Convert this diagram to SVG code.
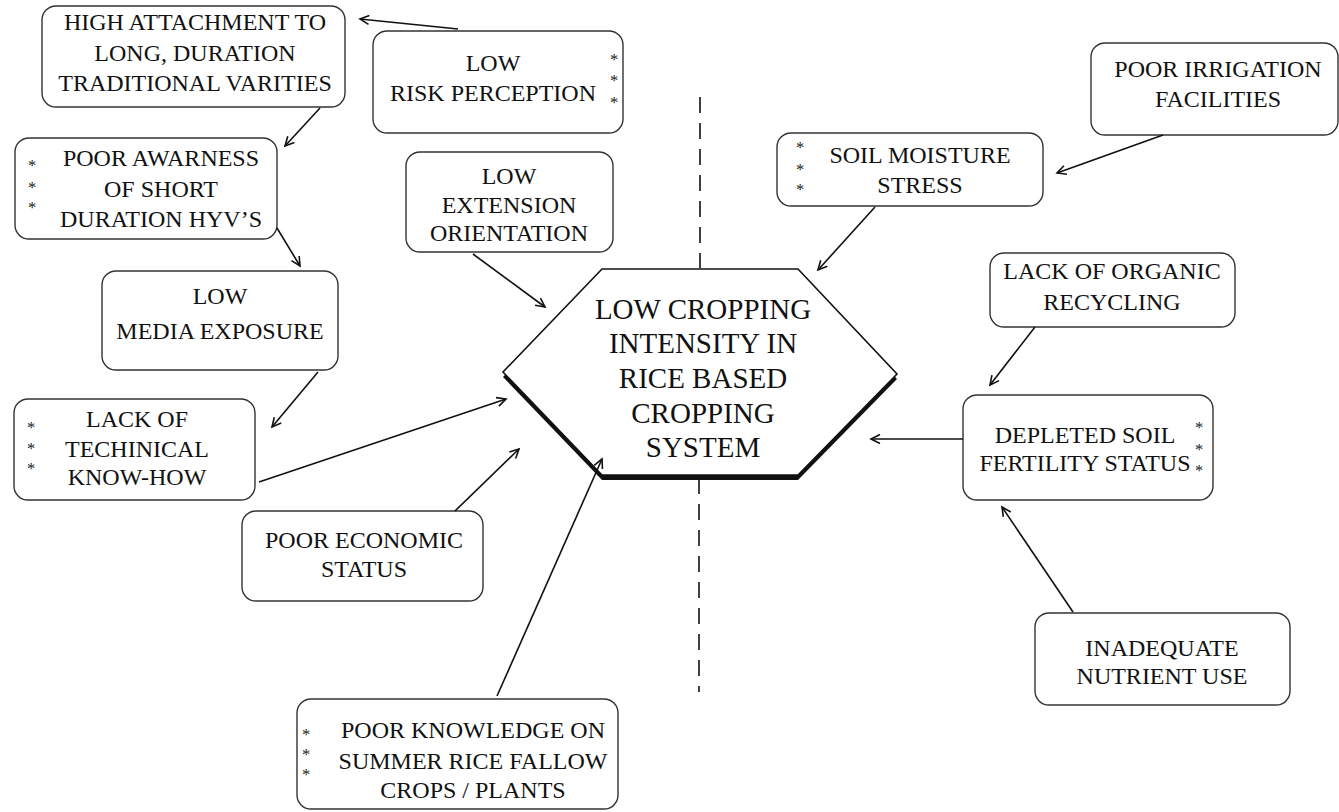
<svg xmlns="http://www.w3.org/2000/svg" width="1339" height="812" viewBox="0 0 1339 812">
<defs>
<marker id="ah" markerUnits="userSpaceOnUse" markerWidth="14" markerHeight="14" refX="11" refY="6" orient="auto">
<path d="M2,1.5 L11,6 L2,10.5" fill="none" stroke="#111" stroke-width="1.6"/>
</marker>
<style>
.box{fill:#fff;stroke:#333;stroke-width:1.4}
.t{font-family:"Liberation Serif","Times New Roman",serif;font-size:24px;fill:#111;text-anchor:middle}
.ht{font-family:"Liberation Serif","Times New Roman",serif;font-size:29px;fill:#111;text-anchor:middle}
.s{font-family:"Liberation Serif","Times New Roman",serif;font-size:16.5px;fill:#222;text-anchor:middle}
.c{stroke:#111;stroke-width:1.6;fill:none;marker-end:url(#ah)}
.d{stroke:#111;stroke-width:1.6;stroke-dasharray:16 10;fill:none}
</style>
</defs>
<rect width="1339" height="812" fill="#fff"/>

<g id="axis">
<line class="d" x1="700" y1="97" x2="700" y2="268"/>
<line class="d" x1="699" y1="478" x2="699" y2="692"/>
</g>

<g id="center">
<polygon points="602,274 798,274 897,379 798,480 602,480 503,377" fill="#111"/>
<polygon points="602,269 798,269 897,374 798,475 602,475 503,372" fill="#fff" stroke="#111" stroke-width="1.6"/>
<text class="ht" x="703" y="319">LOW CROPPING</text>
<text class="ht" x="703" y="353">INTENSITY IN</text>
<text class="ht" x="703" y="388">RICE BASED</text>
<text class="ht" x="703" y="423">CROPPING</text>
<text class="ht" x="703" y="457">SYSTEM</text>
</g>

<g id="n-high-attachment">
<rect class="box" x="42" y="6" width="303" height="101" rx="14"/>
<text class="t" x="195" y="30">HIGH ATTACHMENT TO</text>
<text class="t" x="195" y="61">LONG, DURATION</text>
<text class="t" x="195" y="91">TRADITIONAL VARITIES</text>
</g>

<g id="n-low-risk">
<rect class="box" x="373" y="31" width="250" height="102" rx="14"/>
<text class="t" x="493" y="71">LOW</text>
<text class="t" x="493" y="101">RISK PERCEPTION</text>
<text class="s" x="614" y="65">*</text>
<text class="s" x="614" y="86">*</text>
<text class="s" x="614" y="108">*</text>
</g>

<g id="n-poor-awarness">
<rect class="box" x="15" y="138" width="262" height="101" rx="14"/>
<text class="t" x="161" y="166">POOR AWARNESS</text>
<text class="t" x="161" y="197">OF SHORT</text>
<text class="t" x="161" y="227">DURATION HYV’S</text>
<text class="s" x="32" y="171">*</text>
<text class="s" x="32" y="193">*</text>
<text class="s" x="32" y="213">*</text>
</g>

<g id="n-media">
<rect class="box" x="102" y="271" width="236" height="99" rx="14"/>
<text class="t" x="220" y="304">LOW</text>
<text class="t" x="220" y="339">MEDIA EXPOSURE</text>
</g>

<g id="n-technical">
<rect class="box" x="14" y="399" width="241" height="101" rx="14"/>
<text class="t" x="137" y="427">LACK OF</text>
<text class="t" x="137" y="457">TECHINICAL</text>
<text class="t" x="137" y="485">KNOW-HOW</text>
<text class="s" x="31" y="433">*</text>
<text class="s" x="31" y="454">*</text>
<text class="s" x="31" y="474">*</text>
</g>

<g id="n-economic">
<rect class="box" x="242" y="511" width="241" height="90" rx="14"/>
<text class="t" x="364" y="548">POOR ECONOMIC</text>
<text class="t" x="364" y="577">STATUS</text>
</g>

<g id="n-extension">
<rect class="box" x="406" y="152" width="207" height="100" rx="14"/>
<text class="t" x="509" y="184">LOW</text>
<text class="t" x="509" y="213">EXTENSION</text>
<text class="t" x="509" y="241">ORIENTATION</text>
</g>

<g id="n-summer">
<rect class="box" x="297" y="699" width="321" height="110" rx="14"/>
<text class="t" x="473" y="738">POOR KNOWLEDGE ON</text>
<text class="t" x="473" y="769">SUMMER RICE FALLOW</text>
<text class="t" x="473" y="798">CROPS / PLANTS</text>
<text class="s" x="306" y="740">*</text>
<text class="s" x="306" y="760">*</text>
<text class="s" x="306" y="780">*</text>
</g>

<g id="n-irrigation">
<rect class="box" x="1091" y="43" width="247" height="92" rx="14"/>
<text class="t" x="1218" y="77">POOR IRRIGATION</text>
<text class="t" x="1218" y="107">FACILITIES</text>
</g>

<g id="n-moisture">
<rect class="box" x="777" y="133" width="266" height="73" rx="14"/>
<text class="t" x="920" y="163">SOIL MOISTURE</text>
<text class="t" x="920" y="193">STRESS</text>
<text class="s" x="800" y="153">*</text>
<text class="s" x="800" y="175">*</text>
<text class="s" x="800" y="195">*</text>
</g>

<g id="n-organic">
<rect class="box" x="990" y="253" width="245" height="74" rx="14"/>
<text class="t" x="1112" y="279">LACK OF ORGANIC</text>
<text class="t" x="1112" y="310">RECYCLING</text>
</g>

<g id="n-fertility">
<rect class="box" x="963" y="395" width="250" height="105" rx="14"/>
<text class="t" x="1085" y="443">DEPLETED SOIL</text>
<text class="t" x="1085" y="471">FERTILITY STATUS</text>
<text class="s" x="1199" y="433">*</text>
<text class="s" x="1199" y="455">*</text>
<text class="s" x="1199" y="476">*</text>
</g>

<g id="n-nutrient">
<rect class="box" x="1035" y="613" width="255" height="92" rx="14"/>
<text class="t" x="1162" y="656">INADEQUATE</text>
<text class="t" x="1162" y="684">NUTRIENT USE</text>
</g>

<g id="connectors">
<line class="c" x1="458" y1="29" x2="360" y2="19"/>
<line class="c" x1="320" y1="108" x2="285" y2="146"/>
<line class="c" x1="277" y1="228" x2="300" y2="266"/>
<line class="c" x1="318" y1="372" x2="272" y2="427"/>
<line class="c" x1="259" y1="482" x2="506" y2="399"/>
<line class="c" x1="455" y1="511" x2="519" y2="449"/>
<line class="c" x1="473" y1="254" x2="545" y2="307"/>
<line class="c" x1="497" y1="696" x2="602" y2="459"/>
<line class="c" x1="1163" y1="135" x2="1057" y2="173"/>
<line class="c" x1="875" y1="207" x2="818" y2="270"/>
<line class="c" x1="1035" y1="327" x2="990" y2="385"/>
<line class="c" x1="963" y1="439" x2="871" y2="439"/>
<line class="c" x1="1073" y1="612" x2="1002" y2="507"/>
</g>
</svg>
